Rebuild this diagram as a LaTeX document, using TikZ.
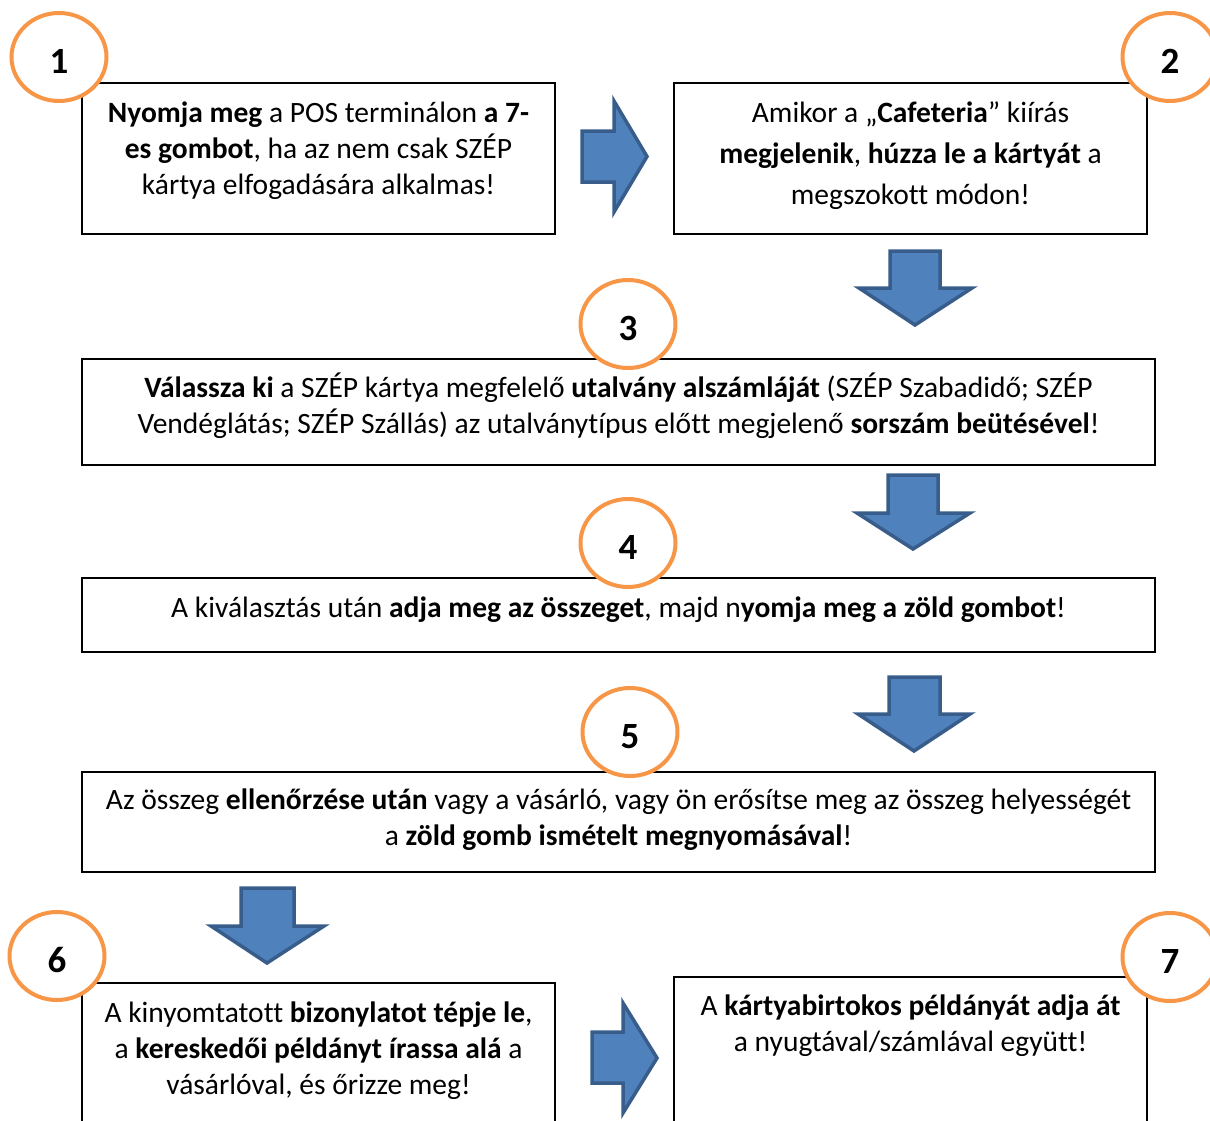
\documentclass[tikz,border=0pt]{standalone}
\usepackage{fontspec}
\setmainfont{Carlito}[Ligatures=NoCommon]
\usetikzlibrary{shapes.geometric}
\definecolor{ringor}{HTML}{F79646}
\definecolor{arrfill}{HTML}{4F81BD}
\definecolor{arrline}{HTML}{385D8A}
\newcommand{\fl}{\rule{0pt}{28pt}}
\begin{document}
\begin{tikzpicture}[x=1pt,y=-1pt,
  box/.style={draw=black,line width=1.6pt,inner sep=0pt,outer sep=0pt},
  txt/.style={anchor=north,align=center,inner sep=0pt,font=\fontsize{29.5}{36}\selectfont},
  ring/.style={ellipse,draw=ringor,line width=4pt,fill=white,minimum width=95pt,minimum height=88pt,inner sep=0pt,
    font=\fontsize{37}{40}\selectfont\bfseries,text height=33pt,text depth=0pt},
  blockarrow/.style={fill=arrfill,draw=arrline,line width=3.5pt,line join=miter}]
\useasboundingbox (0,0) rectangle (1210,1120);
\clip (0,0) rectangle (1210,1120);
% boxes
\node[box,minimum width=473pt,minimum height=151pt] (b1) at (318.5,158.5) {};
\node[box,minimum width=473pt,minimum height=151pt] (b2) at (910.5,158.5) {};
\node[box,minimum width=1073pt,minimum height=106pt] (b3) at (618.5,412) {};
\node[box,minimum width=1073pt,minimum height=74pt] (b4) at (618.5,615) {};
\node[box,minimum width=1073pt,minimum height=100pt] (b5) at (618.5,822) {};
\node[box,minimum width=473pt,minimum height=150pt] (b6) at (318.5,1058) {};
\node[box,minimum width=473pt,minimum height=156pt] (b7) at (910.5,1055) {};
% texts
\node[txt] (t1) at (318.5,94) {\fl\textbf{Nyomja meg} a POS terminálon \textbf{a 7-}\\
  \textbf{es gombot}, ha az nem csak SZÉP\\ kártya elfogadására alkalmas!};
\node[txt,font=\fontsize{29.5}{41}\selectfont] (t2) at (910.5,94) {\fl Amikor a „\textbf{Cafeteria}” kiírás\\
  \textbf{megjelenik}, \textbf{húzza le a kártyát} a\\ megszokott módon!};
\node[txt] (t3) at (618.5,369) {\fl\textbf{Válassza ki} a SZÉP kártya megfelelő \textbf{utalvány alszámláját} (SZÉP Szabadidő; SZÉP\\
  Vendéglátás; SZÉP Szállás) az utalványtípus előtt megjelenő \textbf{sorszám beütésével}!};
\node[txt] (t4) at (618.5,589) {\fl A kiválasztás után \textbf{adja meg az összeget}, majd n\textbf{yomja meg a zöld gombot}!};
\node[txt] (t5) at (618.5,781) {\fl Az összeg \textbf{ellenőrzése után} vagy a vásárló, vagy ön erősítse meg az összeg helyességét\\
  a \textbf{zöld gomb ismételt megnyomásával}!};
\node[txt] (t6) at (318.5,994) {\fl A kinyomtatott \textbf{bizonylatot tépje le},\\
  a \textbf{kereskedői példányt írassa alá} a\\ vásárlóval, és őrizze meg!};
\node[txt] (t7) at (910.5,987) {\fl A \textbf{kártyabirtokos példányát adja át}\\ a nyugtával/számlával együtt!};
% number rings
\node[ring] (c1) at (59,57) {1};
\node[ring] (c2) at (1170,57) {2};
\node[ring] (c3) at (628,324) {3};
\node[ring] (c4) at (628,543) {4};
\node[ring] (c5) at (630,732) {5};
\node[ring] (c6) at (57,956) {6};
\node[ring] (c7) at (1170,957) {7};
% block arrows
\draw[blockarrow] (582,131) -- (614,131) -- (614,101) -- (647,156.5) -- (614,212) -- (614,182) -- (582,182) -- cycle;
\draw[blockarrow] (592,1032) -- (623,1032) -- (623,1003) -- (657,1058) -- (623,1113) -- (623,1083) -- (592,1083) -- cycle;
\draw[blockarrow] (890,251) -- (940,251) -- (940,288) -- (972,288) -- (915,325) -- (859,288) -- (890,288) -- cycle;
\draw[blockarrow] (888,475) -- (938,475) -- (938,513) -- (970,513) -- (913,549) -- (857,513) -- (888,513) -- cycle;
\draw[blockarrow] (889,677) -- (940,677) -- (940,714) -- (970,714) -- (914,751) -- (858,714) -- (889,714) -- cycle;
\draw[blockarrow] (241,888) -- (294,888) -- (294,926) -- (324,926) -- (267,963) -- (211,926) -- (241,926) -- cycle;
\end{tikzpicture}
\end{document}
